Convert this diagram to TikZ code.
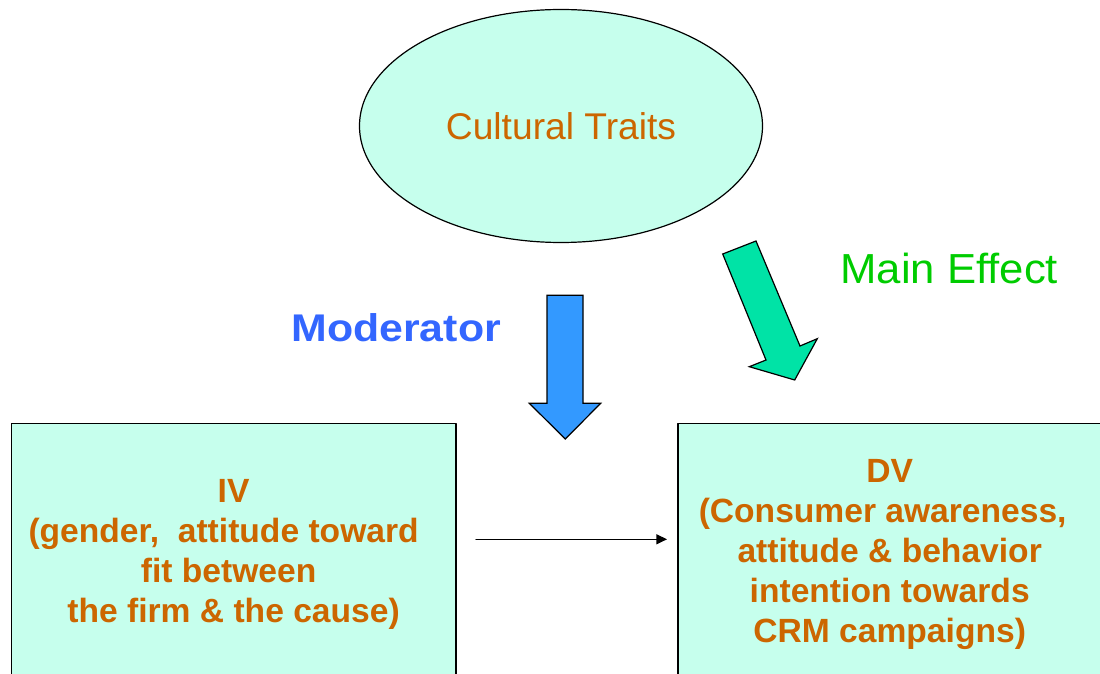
\documentclass[tikz,border=0pt]{standalone}
\usepackage{fontspec}
\setmainfont{Liberation Sans}
\newfontfamily\moderfont[FakeStretch=1.11]{Liberation Sans}
\newfontfamily\effectfont[FakeStretch=1.04]{Liberation Sans}
\usetikzlibrary{arrows.meta}
\usetikzlibrary{positioning}
\usetikzlibrary{shapes.geometric}

\begin{document}
\begin{tikzpicture}[line cap=round,line join=round,x=0.5pt,y=-0.5pt,
  varbox/.style={draw=black,line width=0.6pt,fill=aquaff,anchor=north west,inner sep=0pt,
    minimum width=222.3pt,minimum height=131pt,align=center,text=ocreqq,
    font=\fontsize{16.8}{20}\selectfont\bfseries},
  blockarrow/.style={draw=black,line width=0.6pt,line join=miter}]
\definecolor{aquaff}{rgb}{0.776,1,0.929}
\definecolor{ocreqq}{rgb}{0.8,0.4,0}
\definecolor{moderblue}{rgb}{0.2,0.4,1}
\definecolor{arrowblue}{rgb}{0.2,0.6,1}
\definecolor{effectgreen}{rgb}{0,0.8,0}
\definecolor{arrowgreen}{rgb}{0,0.89,0.65}
\useasboundingbox (0,0) rectangle (1100,674);
\clip (0,0) rectangle (1100,674);
\node [ellipse,draw=black,line width=0.6pt,fill=aquaff,minimum width=201.5pt,minimum height=116.5pt,
  text=ocreqq,font=\fontsize{18.6}{22}\selectfont] (traits) at (561,126) {Cultural Traits};
\node [varbox] (iv) at (10.7,422.7) {IV\\(gender,\ \ attitude toward\hspace{10pt}\mbox{}\\fit between\hspace{5pt}\mbox{}\\the firm \& the cause)};
\node [varbox,minimum width=211.8pt] (dv) at (677.3,422.7) {DV\\(Consumer awareness,\hspace{7pt}\mbox{}\\attitude \& behavior\\intention towards\\CRM campaigns)};
\draw [blockarrow,fill=arrowblue] (547,295.3) -- (583,295.3) -- (583,403.3) -- (600.7,403.3) -- (565.3,439) -- (529.3,403.3) -- (547,403.3) -- cycle;
\draw [blockarrow,fill=arrowgreen] (722.7,254) -- (756,241) -- (800,346) -- (817.3,338.7) -- (794.7,380) -- (749.3,366.7) -- (766,360) -- cycle;
\node [anchor=base west,inner sep=0pt,text=moderblue,font=\moderfont\fontsize{19.3}{23}\selectfont\bfseries] (moder) at (291,341.7) {Moderator};
\node [anchor=base west,inner sep=0pt,text=effectgreen,font=\effectfont\fontsize{21}{25}\selectfont] (effect) at (840,283.3) {Main Effect};
\coordinate (ivout) at (476,539.3);
\coordinate (dvin) at (667,539.3);
\draw [line width=0.6pt,-{Triangle[length=5.3pt,width=5pt]}] (ivout) -- (dvin);
\end{tikzpicture}
\end{document}
